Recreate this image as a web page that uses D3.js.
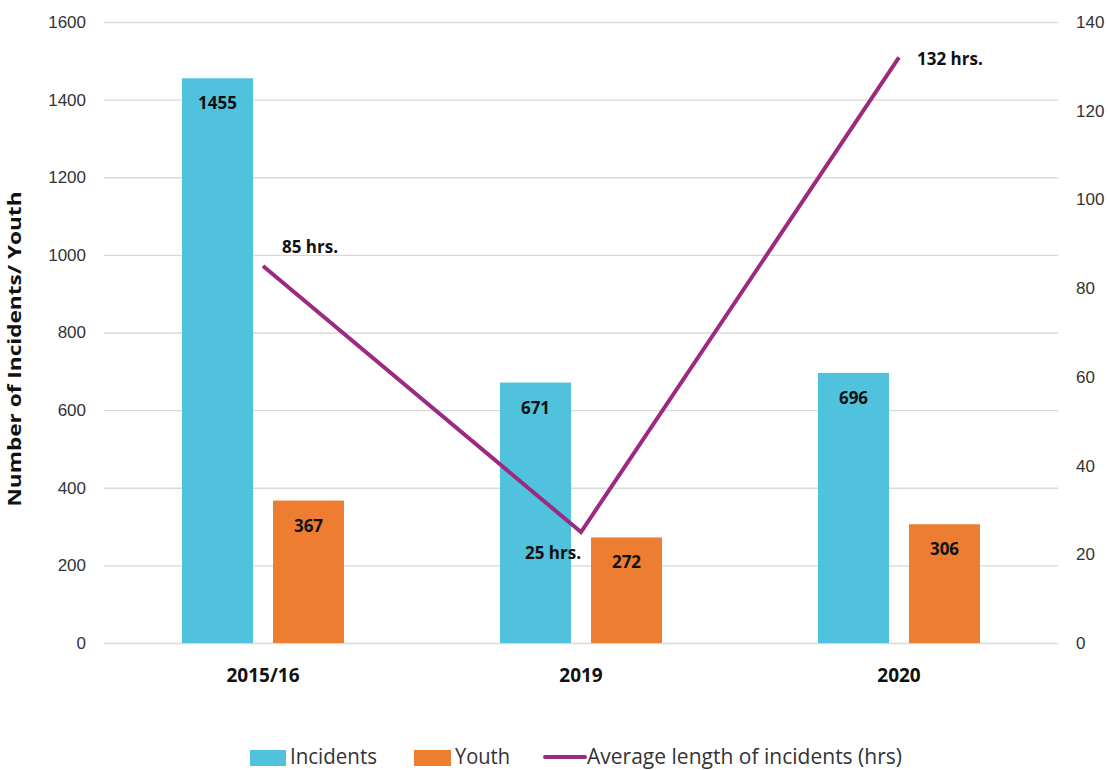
<!DOCTYPE html>
<html>
<head>
<meta charset="utf-8">
<script src="https://cdn.jsdelivr.net/npm/d3@7"></script>
<style>
  html, body { margin: 0; padding: 0; background: #fff; }
  svg { display: block; font-family: "Open Sans", "Noto Sans", sans-serif; }
</style>
</head>
<body>
<svg id="chart" width="1108" height="770"></svg>
<script>
// Data
const categories = ["2015/16", "2019", "2020"];
const seriesNames = ["Incidents", "Youth"];
const incidents = [1455, 671, 696];
const youth = [367, 272, 306];
const avgHours = [85, 25, 132];
const hourLabels = ["85 hrs.", "25 hrs.", "132 hrs."];
const leftTicks = [0, 200, 400, 600, 800, 1000, 1200, 1400, 1600];
const rightTicks = [0, 20, 40, 60, 80, 100, 120, 140];
const legendLabels = ["Incidents", "Youth", "Average length of incidents (hrs)"];

const colors = { Incidents: "#50C2DE", Youth: "#ED7D31", line: "#9B2A80" };
const svg = d3.select("#chart");

// Scales
const x = d3.scaleBand().domain(categories).range([104, 1058]).padding(0);
const xSub = d3.scaleBand().domain(seriesNames).range([78, 240]).paddingInner(0.22).paddingOuter(0);
const yLeft = d3.scaleLinear().domain([0, 1600]).range([643, 22]);
const yRight = d3.scaleLinear().domain([0, 140]).range([643, 22]);

// Gridlines and left axis labels
const leftAxis = d3.axisLeft(yLeft).tickValues(leftTicks).tickFormat(d3.format("d"))
  .tickSize(-(1058 - 104)).tickPadding(18);
const gL = svg.append("g").attr("transform", "translate(104,0)").call(leftAxis);
gL.select(".domain").remove();
gL.selectAll(".tick line").attr("stroke", "#d9d9d9").attr("stroke-width", 1.3);
gL.selectAll(".tick text").attr("fill", "#333").style("font-size", "17px");

// Right axis labels
const rightAxis = d3.axisRight(yRight).tickValues(rightTicks).tickFormat(d3.format("d"))
  .tickSize(0).tickPadding(18);
const gR = svg.append("g").attr("transform", "translate(1058,0)").call(rightAxis);
gR.select(".domain").remove();
gR.selectAll(".tick text").attr("fill", "#333").style("font-size", "17px");

// Bars
const seriesValues = { Incidents: incidents, Youth: youth };
seriesNames.forEach(s => {
  const g = svg.append("g");
  g.selectAll("rect").data(categories).join("rect")
    .attr("x", (c) => x(c) + xSub(s))
    .attr("y", (c, i) => yLeft(seriesValues[s][i]))
    .attr("width", xSub.bandwidth())
    .attr("height", (c, i) => yLeft(0) - yLeft(seriesValues[s][i]))
    .attr("fill", colors[s]);
  g.selectAll("text").data(categories).join("text")
    .attr("x", (c) => x(c) + xSub(s) + xSub.bandwidth() / 2)
    .attr("y", (c, i) => yLeft(seriesValues[s][i]) + 31)
    .attr("text-anchor", "middle")
    .attr("font-weight", "bold")
    .style("font-size", "17px")
    .attr("fill", "#111")
    .text((c, i) => seriesValues[s][i]);
});

// Line series on right axis
const cx = c => x(c) + x.bandwidth() / 2;
const line = d3.line().x((d, i) => cx(categories[i])).y(d => yRight(d));
svg.append("path").datum(avgHours)
  .attr("d", line)
  .attr("fill", "none")
  .attr("stroke", colors.line)
  .attr("stroke-width", 4)
  .attr("stroke-linejoin", "miter");

const hourOffsets = [
  { dx: 19, dy: -13, anchor: "start" },
  { dx: 0, dy: 27, anchor: "end" },
  { dx: 18, dy: 8, anchor: "start" }
];
svg.append("g").selectAll("text").data(avgHours).join("text")
  .attr("x", (d, i) => cx(categories[i]) + hourOffsets[i].dx)
  .attr("y", (d, i) => yRight(d) + hourOffsets[i].dy)
  .attr("text-anchor", (d, i) => hourOffsets[i].anchor)
  .attr("font-weight", "bold")
  .style("font-size", "17px")
  .attr("fill", "#111")
  .text((d, i) => hourLabels[i]);

// Category labels
svg.append("g").selectAll("text").data(categories).join("text")
  .attr("x", c => cx(c))
  .attr("y", 682)
  .attr("text-anchor", "middle")
  .attr("font-weight", "bold")
  .style("font-size", "19px")
  .attr("fill", "#111")
  .text(c => c);

// Y axis title
svg.append("text")
  .attr("transform", "translate(21,349) rotate(-90)")
  .attr("text-anchor", "middle")
  .attr("font-weight", "bold")
  .style("font-size", "17px")
  .attr("textLength", 315)
  .attr("lengthAdjust", "spacingAndGlyphs")
  .attr("fill", "#111")
  .text("Number of Incidents/ Youth");

// Legend
const legend = svg.append("g");
legend.append("rect").attr("x", 250).attr("y", 750).attr("width", 36).attr("height", 16).attr("fill", colors.Incidents);
legend.append("text").attr("x", 290).attr("y", 764).attr("textLength", 87).attr("lengthAdjust", "spacingAndGlyphs")
  .style("font-size", "22px").attr("fill", "#333").text(legendLabels[0]);
legend.append("rect").attr("x", 414).attr("y", 750).attr("width", 37).attr("height", 16).attr("fill", colors.Youth);
legend.append("text").attr("x", 455).attr("y", 764).attr("textLength", 55).attr("lengthAdjust", "spacingAndGlyphs")
  .style("font-size", "22px").attr("fill", "#333").text(legendLabels[1]);
legend.append("line").attr("x1", 545).attr("x2", 585).attr("y1", 757).attr("y2", 757)
  .attr("stroke", colors.line).attr("stroke-width", 4).attr("stroke-linecap", "round");
legend.append("text").attr("x", 587).attr("y", 764).attr("textLength", 315).attr("lengthAdjust", "spacingAndGlyphs")
  .style("font-size", "22px").attr("fill", "#333").text(legendLabels[2]);
</script>
</body>
</html>
